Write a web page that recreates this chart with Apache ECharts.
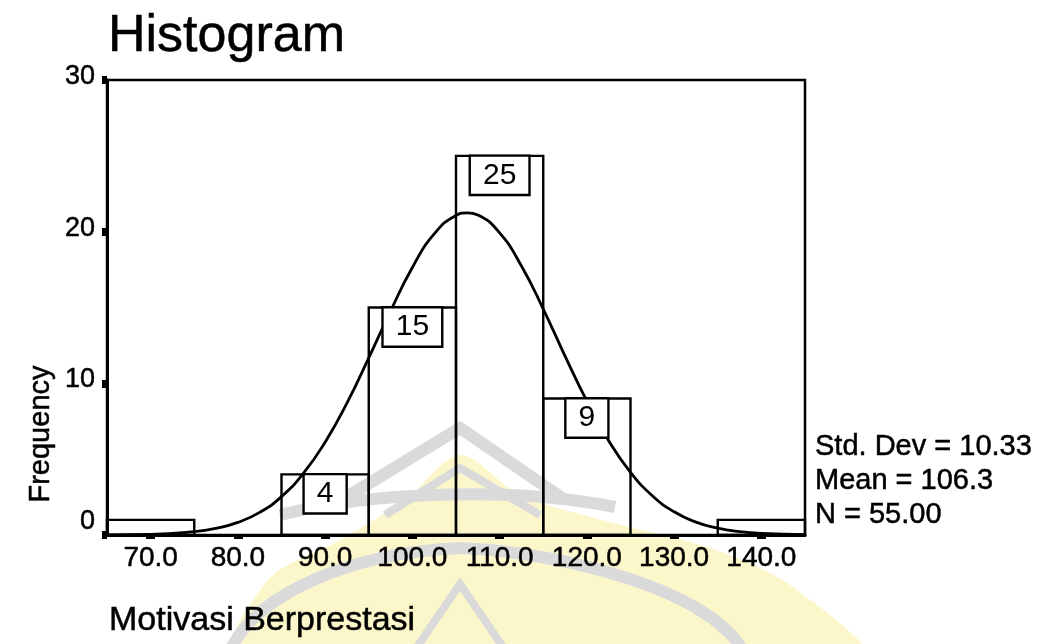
<!DOCTYPE html>
<html>
<head>
<meta charset="utf-8">
<script src="https://cdn.jsdelivr.net/npm/echarts@6/dist/echarts.min.js"></script>
<style>html,body{margin:0;padding:0;background:#fff}#c{width:1048px;height:644px}</style>
</head>
<body>
<div id="c"></div>
<script>
const binStart = [65, 75, 85, 95, 105, 115, 125, 135];
const binEnd   = [75, 85, 95, 105, 115, 125, 135, 145];
const counts   = [1, 0, 4, 15, 25, 9, 0, 1];
const curveX = [65, 70, 75, 77.5, 80, 82.5, 85, 87.5, 90, 92.5, 95, 97.5, 100, 102.5, 105, 106.3, 107.5, 110, 112.5, 115, 117.5, 120, 122.5, 125, 127.5, 130, 132.5, 135, 137.5, 140, 145];
const curveY = [0.01, 0.04, 0.22, 0.44, 0.83, 1.49, 2.53, 4.06, 6.12, 8.70, 11.68, 14.77, 17.64, 19.85, 21.07, 21.24, 21.10, 19.92, 17.74, 14.90, 11.80, 8.82, 6.21, 4.13, 2.59, 1.53, 0.85, 0.45, 0.22, 0.10, 0.02];
const xTicks = [70, 80, 90, 100, 110, 120, 130, 140];
const xTickLabels = ['70.0', '80.0', '90.0', '100.0', '110.0', '120.0', '130.0', '140.0'];
const yTicks = [0, 10, 20, 30];
const yTickLabels = ['0', '10', '20', '30'];
const titleText = 'Histogram';
const xName = 'Motivasi Berprestasi';
const yName = 'Frequency';
const statsLines = ['Std. Dev = 10.33', 'Mean = 106.3', 'N = 55.00'];

const FONT = '"Liberation Sans", Arial, Helvetica, sans-serif';
const chart = echarts.init(document.getElementById('c'), null, {renderer: 'canvas'});

const barData = binStart.map((s, i) => [s, binEnd[i], counts[i]]);
const curveData = curveX.map((x, i) => [x, curveY[i]]);
const WM = '#dadada';
const TB = 0.5;

function txt(x, y, text, size, align, extra) {
  return Object.assign({type: 'text', x: x, y: y, style: {text: text, fontSize: size, fontFamily: FONT, fill: '#000', stroke: '#000', lineWidth: TB, align: align, verticalAlign: 'middle'}}, extra || {});
}

const option = {
  animation: false,
  backgroundColor: '#fff',
  grid: {left: 107, top: 80, right: 243, bottom: 109, show: true, borderColor: '#000', borderWidth: 2.5, backgroundColor: 'transparent'},
  xAxis: {
    type: 'value', min: 65, max: 145,
    splitLine: {show: false},
    axisLine: {show: true, onZero: false, lineStyle: {color: '#000', width: 3}},
    axisTick: {show: true, customValues: xTicks, length: 4, lineStyle: {color: '#000', width: 9}},
    axisLabel: {
      customValues: xTicks, margin: 9, color: '#000', fontSize: 28, fontFamily: FONT,
      textBorderColor: '#000', textBorderWidth: TB,
      formatter: v => xTickLabels[xTicks.indexOf(v)]
    }
  },
  yAxis: {
    type: 'value', min: 0, max: 30, interval: 10,
    splitLine: {show: false},
    axisLine: {show: true, lineStyle: {color: '#000', width: 3}},
    axisTick: {show: true, length: 5, lineStyle: {color: '#000', width: 8}},
    axisLabel: {
      margin: 12, color: '#000', fontSize: 27, fontFamily: FONT,
      formatter: v => {
        const t = yTickLabels[yTicks.indexOf(v)];
        return v === 0 ? '{z|' + t + '}' : '{a|' + t + '}';
      },
      rich: {
        a: {fontSize: 27, fontFamily: FONT, color: '#000', textBorderColor: '#000', textBorderWidth: TB, padding: [0, 0, 7, 0]},
        z: {fontSize: 27, fontFamily: FONT, color: '#000', textBorderColor: '#000', textBorderWidth: TB, padding: [0, 0, 26, 0]}
      }
    }
  },
  graphic: [
    {type: 'polygon', z: -10, shape: {points: [[235, 660], [268, 580], [340, 540], [405, 500], [460, 455], [520, 495], [610, 522], [710, 548], [790, 585], [865, 660]], smooth: 0.3}, style: {fill: '#fcf7cb'}},
    {type: 'polyline', z: -9, shape: {points: [[345, 498], [460, 428], [565, 500]]}, style: {fill: null, stroke: WM, lineWidth: 12}},
    {type: 'polyline', z: -9, shape: {points: [[385, 515], [460, 468], [540, 515]]}, style: {fill: null, stroke: WM, lineWidth: 8}},
    {type: 'bezierCurve', z: -9, shape: {x1: 280, y1: 515, x2: 615, y2: 507, cpx1: 380, cpy1: 490, cpx2: 520, cpy2: 488}, style: {fill: null, stroke: WM, lineWidth: 12}},
    {type: 'bezierCurve', z: -9, shape: {x1: 228, y1: 655, x2: 460, y2: 548, cpx1: 255, cpy1: 590, cpx2: 360, cpy2: 552}, style: {fill: null, stroke: WM, lineWidth: 12}},
    {type: 'bezierCurve', z: -9, shape: {x1: 460, y1: 548, x2: 745, y2: 655, cpx1: 560, cpy1: 552, cpx2: 715, cpy2: 590}, style: {fill: null, stroke: WM, lineWidth: 12}},
    {type: 'polyline', z: -9, shape: {points: [[415, 650], [460, 584], [505, 650]]}, style: {fill: null, stroke: WM, lineWidth: 8}},
    txt(108, 37, titleText, 52, 'left'),
    txt(109, 621, xName, 34, 'left'),
    txt(41, 434, yName, 29, 'center', {rotation: Math.PI / 2}),
    txt(815, 447, statsLines[0], 29, 'left'),
    txt(815, 481, statsLines[1], 29, 'left'),
    txt(815, 515, statsLines[2], 29, 'left')
  ],
  series: [
    {
      type: 'line', data: curveData, smooth: true, showSymbol: false, symbol: 'none', z: 2,
      lineStyle: {color: '#000', width: 2.8}
    },
    {
      type: 'custom', z: 3, data: barData, encode: {x: [0, 1], y: 2},
      renderItem: (params, api) => {
        const x0 = api.value(0), x1 = api.value(1), v = api.value(2);
        if (!(v > 0)) return null;
        const p0 = api.coord([x0, v]);
        const p1 = api.coord([x1, 0]);
        const children = [{
          type: 'rect',
          shape: {x: p0[0], y: p0[1], width: p1[0] - p0[0], height: p1[1] - p0[1]},
          style: {fill: 'transparent', stroke: '#000', lineWidth: 2.4}
        }];
        if (v >= 2) {
          children.push({
            type: 'text', z2: 10,
            style: {
              text: String(v), x: (p0[0] + p1[0]) / 2, y: p0[1] + 1,
              align: 'center', verticalAlign: 'top',
              fontSize: 30, fontFamily: FONT, fill: '#000', lineHeight: 29,
              backgroundColor: '#fff', borderColor: '#000', borderWidth: 2.4,
              padding: [4, 12, 4, 12]
            }
          });
        }
        return {type: 'group', children};
      }
    }
  ]
};
chart.setOption(option);
</script>
</body>
</html>
